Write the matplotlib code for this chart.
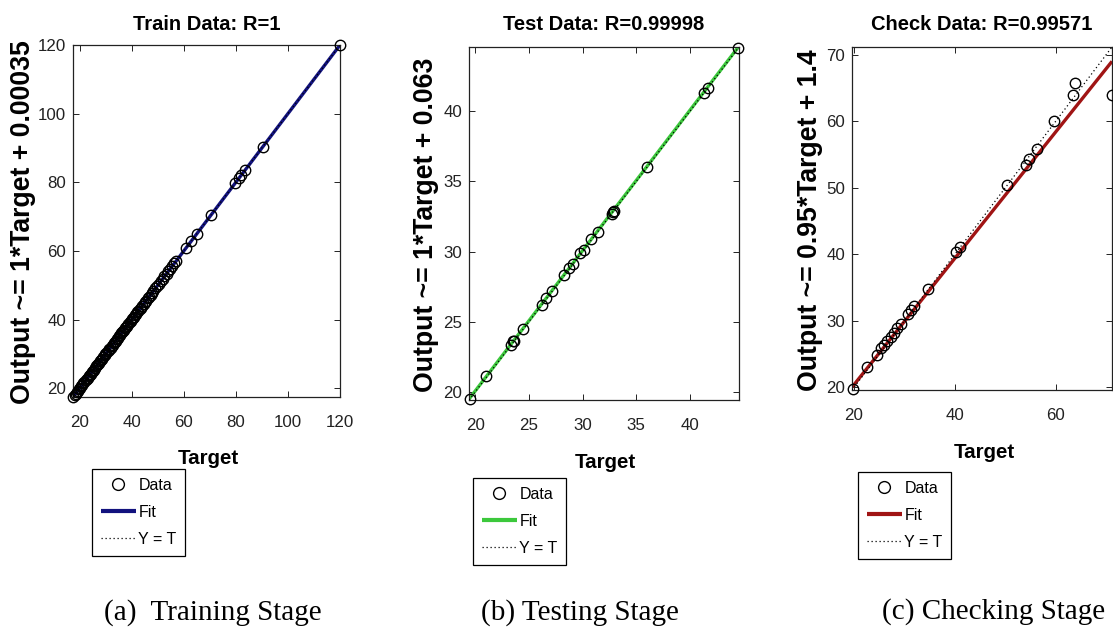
import matplotlib
matplotlib.use('Agg')
import matplotlib.pyplot as plt
from matplotlib import font_manager as fm
import numpy as np

# ---------------- data ----------------
train_target = [17.6, 18.1, 18.5, 18.9, 19.3, 19.8, 20.2, 20.6, 21.1, 21.5, 21.9, 22.4, 22.8, 23.1,
                23.6, 24.0, 24.3, 24.8, 25.2, 25.5, 25.9, 26.4, 26.8, 27.1, 27.5, 27.9, 28.4, 28.7,
                29.1, 29.6, 29.9, 30.3, 30.8, 31.2, 31.5, 31.9, 32.4, 32.7, 33.2, 33.6, 33.9, 34.3,
                34.8, 35.2, 35.5, 36.0, 36.4, 36.7, 37.1, 37.6, 38.0, 38.3, 38.8, 39.2, 39.6, 40.1,
                40.4, 40.8, 41.3, 41.7, 42.2, 42.6, 43.1, 43.5, 44.0, 44.6, 45.1, 45.5, 46.2, 46.7,
                47.3, 47.9, 48.4, 49.1, 49.8, 50.4, 51.2, 51.9, 52.6, 53.4, 54.1, 54.9, 55.6, 56.4,
                57.2, 61.0, 62.9, 65.0, 70.6, 79.8, 81.2, 82.0, 83.6, 90.4, 120.0]
train_output = [17.6, 18.1, 18.5, 18.9, 19.3, 19.8, 20.2, 20.6, 21.1, 21.5, 21.9, 22.4, 22.8, 23.1,
                23.6, 24.0, 24.3, 24.8, 25.2, 25.5, 25.9, 26.4, 26.8, 27.1, 27.5, 27.9, 28.4, 28.7,
                29.1, 29.6, 29.9, 30.3, 30.8, 31.2, 31.5, 31.9, 32.4, 32.7, 33.2, 33.6, 33.9, 34.3,
                34.8, 35.2, 35.5, 36.0, 36.4, 36.7, 37.1, 37.6, 38.0, 38.3, 38.8, 39.2, 39.6, 40.1,
                40.4, 40.8, 41.3, 41.7, 42.2, 42.6, 43.1, 43.5, 44.0, 44.6, 45.1, 45.5, 46.2, 46.7,
                47.3, 47.9, 48.4, 49.1, 49.8, 50.4, 51.2, 51.9, 52.6, 53.4, 54.1, 54.9, 55.6, 56.4,
                57.2, 61.0, 62.9, 65.0, 70.6, 79.8, 81.2, 82.0, 83.6, 90.4, 120.0]

test_target = [19.5, 21.0, 23.3, 23.5, 23.6, 24.4, 26.2, 26.6, 27.1, 28.3, 28.7, 29.1, 29.8, 30.1,
               30.8, 31.4, 32.7, 32.8, 32.9, 36.0, 41.3, 41.7, 44.5]
test_output = [19.5, 21.1, 23.3, 23.6, 23.6, 24.5, 26.2, 26.7, 27.2, 28.3, 28.8, 29.1, 29.9, 30.1,
               30.9, 31.4, 32.7, 32.8, 32.9, 36.0, 41.3, 41.7, 44.5]

check_target = [19.7, 22.6, 24.5, 25.3, 25.9, 26.6, 27.3, 27.9, 28.6, 29.4, 30.8, 31.4, 31.9, 34.6,
                40.2, 41.0, 50.3, 54.1, 54.8, 56.4, 59.7, 63.5, 63.8, 71.2]
check_output = [19.7, 23.0, 24.8, 25.9, 26.4, 27.0, 27.6, 28.2, 28.9, 29.5, 31.0, 31.6, 32.3, 34.8,
                40.4, 41.1, 50.4, 53.4, 54.4, 55.9, 60.0, 64.0, 65.8, 64.0]

titles = ['Train Data: R=1', 'Test Data: R=0.99998', 'Check Data: R=0.99571']
ylabels = ['Output ~= 1*Target + 0.00035', 'Output ~= 1*Target + 0.063',
           'Output ~= 0.95*Target + 1.4']
fit_slopes = [1.0, 1.0, 0.95]
fit_intercepts = [0.00035, 0.063, 1.4]
captions = ['(a)  Training Stage', '(b) Testing Stage', '(c) Checking Stage']
legend_labels = ['Data', 'Fit', 'Y = T']
axis_limits = [(17.5, 120.0), (19.4, 44.6), (19.6, 71.2)]
xticks = [[20, 40, 60, 80, 100, 120], [20, 25, 30, 35, 40], [20, 40, 60]]
yticks = [[20, 40, 60, 80, 100, 120], [20, 25, 30, 35, 40], [20, 30, 40, 50, 60, 70]]
fit_colors = ['#12127e', '#3cc83c', '#a01414']

# ---------------- layout (pixels) ----------------
W, H = 1113, 630
fig = plt.figure(figsize=(W / 100, H / 100), dpi=100)
fig.patch.set_facecolor('white')


def pick_family(names, default):
    for name in names:
        try:
            fm.findfont(fm.FontProperties(family=name), fallback_to_default=False)
            return name
        except Exception:
            pass
    return default


NARROW = pick_family(['Liberation Sans Narrow', 'Arial Narrow'], 'Liberation Sans')
SANS = 'Liberation Sans'
SERIF = 'Liberation Serif'

axes_px = [(73, 340, 45, 397), (469, 739, 47, 400), (852, 1112, 47, 390)]  # l, r, t, b
title_px = [(207, 25), (604, 24), (982, 24)]
ylabel_px = [(23, 222), (426, 225), (810, 220)]
xlabel_px = [(208, 458), (605, 462), (984, 452)]
legend_px = [(92, 469), (473, 478), (858, 472)]
caption_px = [(213, 613), (580, 613), (994, 612)]

datasets = [(train_target, train_output), (test_target, test_output), (check_target, check_output)]

for i in range(3):
    l, r, t, b = axes_px[i]
    ax = fig.add_axes([l / W, 1 - b / H, (r - l) / W, (b - t) / H])
    lo, hi = axis_limits[i]
    lims = np.array([lo, hi])
    tgt, out = datasets[i]

    h_data, = ax.plot(tgt, out, 'o', mfc='none', mec='black', ms=7.5, mew=1.0,
                      clip_on=False, zorder=4)
    h_fit, = ax.plot(lims, fit_slopes[i] * lims + fit_intercepts[i], color=fit_colors[i],
                     lw=2.4, zorder=2, solid_capstyle='butt')
    h_yt, = ax.plot(lims, lims, color='black', ls=(0, (1, 2.2)), lw=0.9, zorder=3)

    ax.set_xlim(lo, hi)
    ax.set_ylim(lo, hi)
    ax.set_xticks(xticks[i])
    ax.set_yticks(yticks[i])
    ax.tick_params(direction='in', top=True, right=True, length=4, width=0.7,
                   labelsize=12.2, colors='#222222')
    ax.tick_params(axis='x', pad=13)
    ax.tick_params(axis='y', pad=5)
    for lab in ax.get_xticklabels() + ax.get_yticklabels():
        lab.set_family(NARROW)
    for sp in ax.spines.values():
        sp.set_linewidth(0.9)
        sp.set_color('#222222')

    # title
    tx, ty = title_px[i]
    ax.set_title(titles[i], family=NARROW, fontweight='bold', fontsize=14.5,
                 x=(tx - l) / (r - l), y=(b - ty) / (b - t), va='center', pad=0)
    # ylabel
    yx, yy = ylabel_px[i]
    ax.set_ylabel(ylabels[i], family=SANS, fontweight='bold', fontsize=19.2,
                  va='center', ha='center')
    ax.yaxis.set_label_coords((yx - l) / (r - l), (b - yy) / (b - t))
    # xlabel
    xx, xy = xlabel_px[i]
    ax.set_xlabel('Target', family=NARROW, fontweight='bold', fontsize=14.8,
                  va='center', ha='center')
    ax.xaxis.set_label_coords((xx - l) / (r - l), (b - xy) / (b - t))

    # legend
    lx, ly = legend_px[i]
    leg = ax.legend([h_data, h_fit, h_yt], legend_labels, loc='upper left',
                    bbox_to_anchor=(lx / W, 1 - ly / H), bbox_transform=fig.transFigure,
                    frameon=True, fancybox=False, edgecolor='black', framealpha=1,
                    borderpad=0.55, borderaxespad=0, handlelength=2.2, handletextpad=0.15,
                    labelspacing=0.75, prop=fm.FontProperties(family=NARROW, size=11.5))
    leg.get_frame().set_linewidth(0.9)
    leg.legend_handles[0].set_markersize(8.5)
    leg.legend_handles[1].set_linewidth(3)

    # caption
    cx, cy = caption_px[i]
    fig.text(cx / W, 1 - cy / H, captions[i], family=SERIF, fontsize=21,
             ha='center', va='center')

fig.savefig('out.png', dpi=100, facecolor='white')
